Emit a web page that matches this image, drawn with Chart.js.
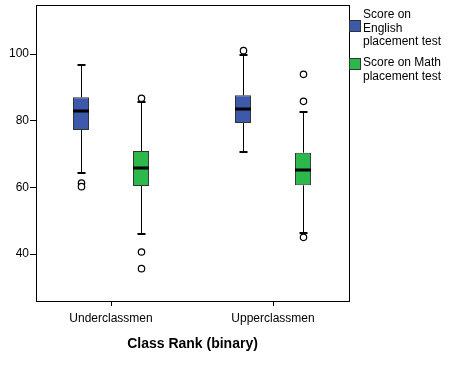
<!DOCTYPE html>
<html>
<head>
<meta charset="utf-8">
<script src="https://cdn.jsdelivr.net/npm/chart.js@4"></script>
<style>
  html, body { margin: 0; padding: 0; background: #fff; }
  #wrap { width: 467px; height: 365px; }
</style>
</head>
<body>
<div id="wrap"><canvas id="BoxChart" width="467" height="365"></canvas></div>
<script>
// Class rank boxplot
var categories = ["Underclassmen", "Upperclassmen"];
var seriesNames = [["Score on", "English", "placement test"], ["Score on Math", "placement test"]];

// English placement test
var engQ1 = [77.2, 79.3];
var engQ3 = [87.0, 87.6];
var engMedian = [83.0, 83.6];
var engMin = [64.2, 70.6];
var engMax = [96.7, 99.8];
var engOutliers = [[61.3, 60.2], [101.0]];

// Math placement test
var mathQ1 = [60.4, 60.6];
var mathQ3 = [70.9, 70.4];
var mathMedian = [65.9, 65.3];
var mathMin = [46.1, 46.4];
var mathMax = [85.5, 82.7];
var mathOutliers = [[86.7, 40.6, 35.6], [93.9, 85.8, 45.0]];

var yTicks = [40, 60, 80, 100];
var colors = ["#3d59aa", "#2db84c"];

var FONT = "'Liberation Sans', Arial, sans-serif";

function boxes(q1, q3) {
  return q1.map(function (v, i) { return {x: i, y: [v, q3[i]]}; });
}

var stats = [
  {median: engMedian, min: engMin, max: engMax, outliers: engOutliers},
  {median: mathMedian, min: mathMin, max: mathMax, outliers: mathOutliers}
];

// whiskers, medians, outliers, frame and legend
var boxExtras = {
  id: "boxExtras",
  afterDatasetsDraw: function (chart) {
    var ctx = chart.ctx;
    var y = chart.scales.y;
    var area = chart.chartArea;
    ctx.save();
    chart.data.datasets.forEach(function (ds, di) {
      var meta = chart.getDatasetMeta(di);
      var st = stats[di];
      meta.data.forEach(function (bar, i) {
        var x = Math.round(bar.x) + 0.5;
        var w = bar.width;
        var top = Math.min(bar.y, bar.base);
        var bot = Math.max(bar.y, bar.base);
        ctx.strokeStyle = "#000";
        ctx.lineWidth = 1;
        // whiskers
        var yMax = Math.round(y.getPixelForValue(st.max[i]));
        var yMin = Math.round(y.getPixelForValue(st.min[i]));
        ctx.beginPath();
        ctx.moveTo(x, top); ctx.lineTo(x, yMax);
        ctx.moveTo(x, bot); ctx.lineTo(x, yMin);
        ctx.stroke();
        ctx.lineWidth = 2;
        ctx.beginPath();
        ctx.moveTo(x - 4, yMax); ctx.lineTo(x + 4, yMax);
        ctx.moveTo(x - 4, yMin); ctx.lineTo(x + 4, yMin);
        ctx.stroke();
        // median
        var yMed = Math.round(y.getPixelForValue(st.median[i]));
        ctx.lineWidth = 3;
        ctx.beginPath();
        ctx.moveTo(bar.x - w / 2, yMed); ctx.lineTo(bar.x + w / 2, yMed);
        ctx.stroke();
        // outliers
        ctx.lineWidth = 1.2;
        st.outliers[i].forEach(function (v) {
          var py = y.getPixelForValue(v);
          ctx.beginPath();
          ctx.arc(x, py, 3.2, 0, Math.PI * 2);
          ctx.fillStyle = "#fff";
          ctx.fill();
          ctx.stroke();
        });
      });
    });
    // frame
    ctx.lineWidth = 1;
    ctx.strokeStyle = "#000";
    ctx.strokeRect(Math.round(area.left) + 0.5, Math.round(area.top) + 0.5,
      Math.round(area.right - area.left), Math.round(area.bottom - area.top));
    // legend
    var lx = Math.round(area.right);
    var swatchY = [20, 58];
    var textY = [[15, 28.5, 42], [63, 76.5]];
    ctx.font = "12px " + FONT;
    ctx.textBaseline = "middle";
    ctx.textAlign = "left";
    seriesNames.forEach(function (lines, di) {
      ctx.fillStyle = colors[di];
      ctx.fillRect(lx, swatchY[di], 12, 12);
      ctx.strokeStyle = "#333";
      ctx.strokeRect(lx + 0.5, swatchY[di] + 0.5, 11, 11);
      ctx.fillStyle = "#000";
      lines.forEach(function (t, li) {
        ctx.fillText(t, lx + 14, textY[di][li]);
      });
    });
    ctx.restore();
  }
};

new Chart("BoxChart", {
  type: "bar",
  data: {
    datasets: [
      {label: seriesNames[0].join(" "), data: boxes(engQ1, engQ3), backgroundColor: colors[0],
       borderColor: "#333", borderWidth: 1, borderSkipped: false},
      {label: seriesNames[1].join(" "), data: boxes(mathQ1, mathQ3), backgroundColor: colors[1],
       borderColor: "#333", borderWidth: 1, borderSkipped: false}
    ]
  },
  options: {
    responsive: false,
    animation: false,
    events: [],
    layout: {padding: {top: 5, right: 118, left: 0, bottom: 0}},
    datasets: {bar: {categoryPercentage: 0.741, barPercentage: 0.267}},
    plugins: {legend: {display: false}, tooltip: {enabled: false}},
    scales: {
      x: {
        type: "linear",
        min: -0.463,
        max: 1.469,
        offset: false,
        afterBuildTicks: function (s) { s.ticks = categories.map(function (c, i) { return {value: i}; }); },
        grid: {display: true, drawOnChartArea: false, offset: false, tickLength: 5, color: "#000", tickWidth: 1},
        border: {display: true, color: "#000", width: 1},
        ticks: {color: "#000", font: {family: FONT, size: 12}, padding: 5,
                callback: function (v) { return categories[v]; }},
        title: {display: true, text: "Class Rank (binary)", color: "#000",
                font: {family: FONT, size: 14, weight: "bold"}, padding: {top: 6, bottom: 12}},
        afterFit: function (s) { s.height = 64; s.paddingLeft = 0; s.paddingRight = 0; }
      },
      y: {
        min: 25.9,
        max: 114.7,
        afterBuildTicks: function (s) { s.ticks = yTicks.map(function (v) { return {value: v}; }); },
        grid: {display: true, drawOnChartArea: false, tickLength: 6, color: "#000", tickWidth: 1},
        border: {display: true, color: "#000", width: 1},
        ticks: {color: "#000", font: {family: FONT, size: 12}, padding: 1},
        afterFit: function (s) { s.width = 36; s.paddingTop = 0; s.paddingBottom = 0; }
      }
    }
  },
  plugins: [boxExtras]
});
</script>
</body>
</html>
